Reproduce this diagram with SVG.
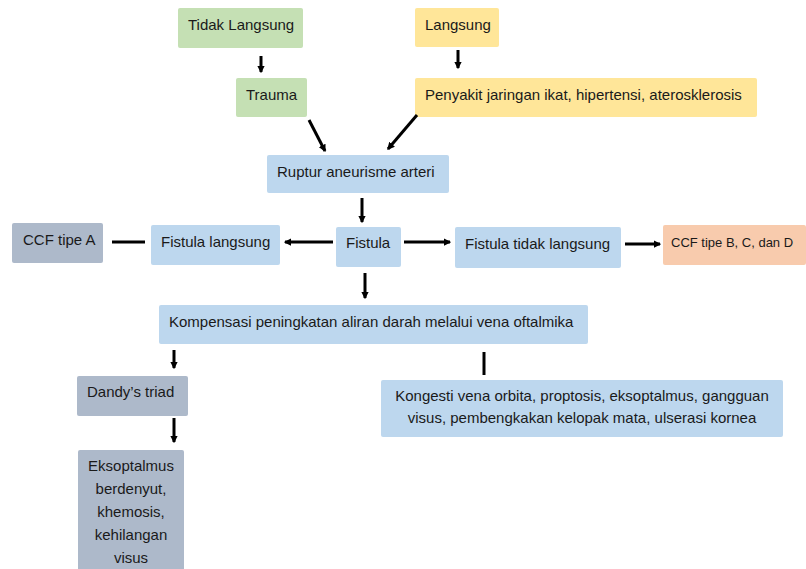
<svg xmlns="http://www.w3.org/2000/svg" width="806" height="569" viewBox="0 0 806 569">
<defs>
<marker id="ah" viewBox="0 0 6 6" refX="5" refY="3" markerWidth="2.5" markerHeight="2.5" orient="auto" markerUnits="strokeWidth">
<path d="M0,0 L6,3 L0,6 Z" fill="#000"/>
</marker>
<style>
.t{font-family:"Liberation Sans",Arial,sans-serif;font-size:15px;fill:#1a1a1a}
.g{fill:#C5E0B4}.y{fill:#FFE699}.b{fill:#BDD7EE}.s{fill:#ADB9CA}.o{fill:#F8CBAD}
.c{stroke:#000;stroke-width:3;fill:none;marker-end:url(#ah)}
.n{stroke:#000;stroke-width:3;fill:none}
</style>
</defs>
<rect width="806" height="569" fill="#fff"/>
<g id="tidak-langsung"><rect class="g" x="178" y="8" width="125" height="40" rx="2"/><text class="t" x="188" y="30">Tidak Langsung</text></g>
<g id="langsung"><rect class="y" x="415" y="8" width="84" height="39" rx="2"/><text class="t" x="425" y="30">Langsung</text></g>
<g id="trauma"><rect class="g" x="236" y="78" width="71" height="39" rx="2"/><text class="t" x="246" y="100">Trauma</text></g>
<g id="penyakit"><rect class="y" x="415" y="78" width="342" height="39" rx="2"/><text class="t" x="425" y="100">Penyakit jaringan ikat, hipertensi, aterosklerosis</text></g>
<g id="ruptur"><rect class="b" x="267" y="155" width="182" height="38" rx="2"/><text class="t" x="277" y="177">Ruptur aneurisme arteri</text></g>
<g id="ccf-a"><rect class="s" x="12" y="223" width="91" height="40" rx="2"/><text class="t" x="23" y="245">CCF tipe A</text></g>
<g id="fistula-langsung"><rect class="b" x="151" y="225" width="129" height="40" rx="2"/><text class="t" x="161" y="247">Fistula langsung</text></g>
<g id="fistula"><rect class="b" x="336" y="227" width="65" height="40" rx="2"/><text class="t" x="346" y="248">Fistula</text></g>
<g id="fistula-tidak"><rect class="b" x="455" y="227" width="166" height="41" rx="2"/><text class="t" x="465" y="249">Fistula tidak langsung</text></g>
<g id="ccf-bcd"><rect class="o" x="663" y="225" width="143" height="40" rx="2"/><text class="t" x="671" y="247" style="font-size:13px">CCF tipe B, C, dan D</text></g>
<g id="kompensasi"><rect class="b" x="159" y="305" width="429" height="39" rx="2"/><text class="t" x="169" y="327">Kompensasi peningkatan aliran darah melalui vena oftalmika</text></g>
<g id="dandy"><rect class="s" x="77" y="376" width="111" height="40" rx="2"/><text class="t" x="87" y="397">Dandy’s triad</text></g>
<g id="eksoptalmus"><rect class="s" x="78" y="450" width="106" height="125" rx="2"/>
<text class="t" text-anchor="middle"><tspan x="131" y="471">Eksoptalmus</tspan><tspan x="131" y="494">berdenyut,</tspan><tspan x="131" y="517">khemosis,</tspan><tspan x="131" y="540">kehilangan</tspan><tspan x="131" y="563">visus</tspan></text></g>
<g id="kongesti"><rect class="b" x="381" y="380" width="402" height="57" rx="2"/>
<text class="t" text-anchor="middle"><tspan x="582" y="401">Kongesti vena orbita, proptosis, eksoptalmus, gangguan</tspan><tspan x="582" y="423">visus, pembengkakan kelopak mata, ulserasi kornea</tspan></text></g>
<g id="connectors">
<line class="c" x1="261" y1="56" x2="261" y2="72"/>
<line class="c" x1="458" y1="50" x2="458" y2="68"/>
<line class="c" x1="309" y1="120" x2="325" y2="151"/>
<line class="c" x1="417" y1="115" x2="388" y2="149"/>
<line class="c" x1="362" y1="198" x2="362" y2="222"/>
<line class="c" x1="333" y1="242" x2="285" y2="242"/>
<line class="n" x1="112" y1="242" x2="145" y2="242"/>
<line class="c" x1="404" y1="242" x2="450" y2="242"/>
<line class="c" x1="625" y1="244" x2="660" y2="244"/>
<line class="c" x1="365" y1="273" x2="365" y2="298"/>
<line class="c" x1="174" y1="350" x2="174" y2="368"/>
<line class="c" x1="174" y1="418" x2="174" y2="442"/>
<line class="n" x1="484" y1="352" x2="484" y2="375"/>
</g>
</svg>
